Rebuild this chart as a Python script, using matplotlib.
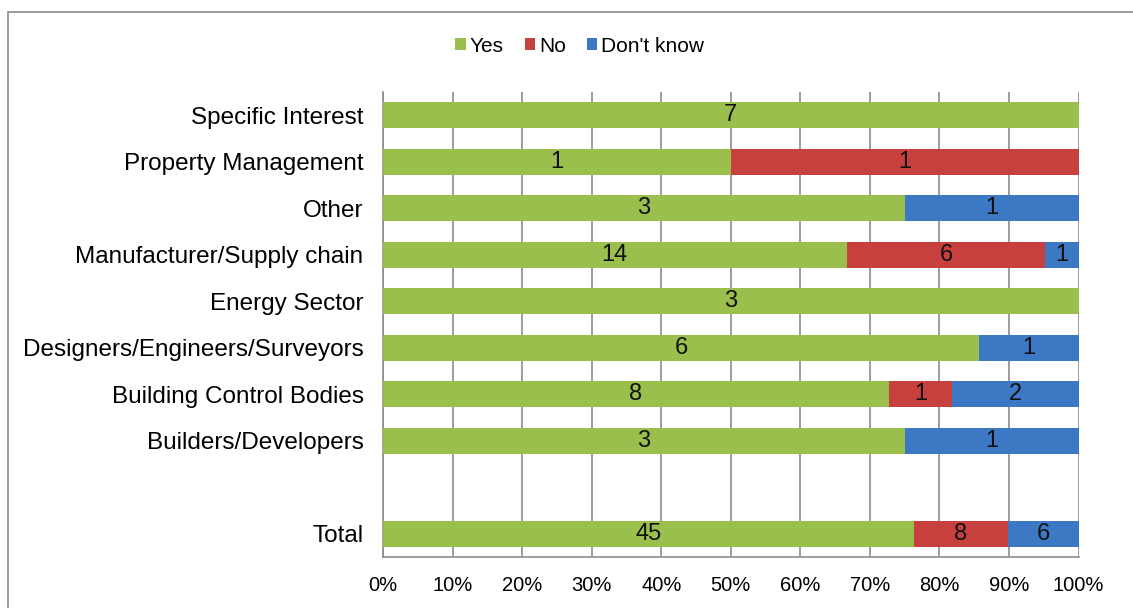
import matplotlib.pyplot as plt
from matplotlib.patches import Rectangle
import numpy as np

plt.rcParams['font.family'] = ['Liberation Sans', 'DejaVu Sans']

categories = ["Specific Interest", "Property Management", "Other",
              "Manufacturer/Supply chain", "Energy Sector",
              "Designers/Engineers/Surveyors", "Building Control Bodies",
              "Builders/Developers", "", "Total"]
yes = [7, 1, 3, 14, 3, 6, 8, 3, 0, 45]
no = [0, 1, 0, 6, 0, 0, 1, 0, 0, 8]
dont_know = [0, 0, 1, 1, 0, 1, 2, 1, 0, 6]

series = [("Yes", yes, "#9bbf4c"), ("No", no, "#c8403e"), ("Don't know", dont_know, "#3d78c4")]

fig = plt.figure(figsize=(11.33, 6.08), dpi=100)
ax = fig.add_axes([0.338, 0.084, 0.614, 0.765])

# outer chart border
fig.patches.append(Rectangle((0.007, -0.1), 1.1, 1.08, transform=fig.transFigure,
                             fill=False, edgecolor="#8c8c8c", linewidth=1.2))

n = len(categories)
ypos = np.arange(n)[::-1]
totals = np.array(yes) + np.array(no) + np.array(dont_know)
totals = np.where(totals == 0, 1, totals)

left = np.zeros(n)
for name, vals, col in series:
    vals = np.array(vals, dtype=float)
    pct = vals / totals * 100
    ax.barh(ypos, pct, left=left, height=0.56, color=col, label=name, zorder=3)
    for y, l, p, v in zip(ypos, left, pct, vals):
        if v > 0:
            ax.text(l + p / 2, y, f"{int(v)}", ha="center", va="center",
                    fontsize=17, color="#111111", zorder=4)
    left += pct

ax.set_xlim(0, 100)
ax.set_ylim(-0.5, n - 0.5)
ax.set_xticks(np.arange(0, 101, 10))
ax.set_xticklabels([f"{t}%" for t in range(0, 101, 10)], fontsize=14.5)
ax.set_yticks(ypos)
ax.set_yticklabels(categories, fontsize=17.5)
ax.tick_params(axis="both", length=0)
ax.tick_params(axis="y", pad=14)
ax.tick_params(axis="x", pad=14)
ax.grid(axis="x", color="#8c8c8c", linewidth=1.2, zorder=0)
for s in ["top", "right"]:
    ax.spines[s].set_visible(False)
for s in ["left", "bottom"]:
    ax.spines[s].set_color("#8c8c8c")
    ax.spines[s].set_linewidth(1.2)

ax.legend(loc="center", bbox_to_anchor=(0.283, 1.098), ncol=3, frameon=False,
          fontsize=15, handlelength=0.5, handleheight=0.5, handletextpad=0.2,
          columnspacing=1.0, borderpad=0)

fig.savefig("out.png", dpi=100)
